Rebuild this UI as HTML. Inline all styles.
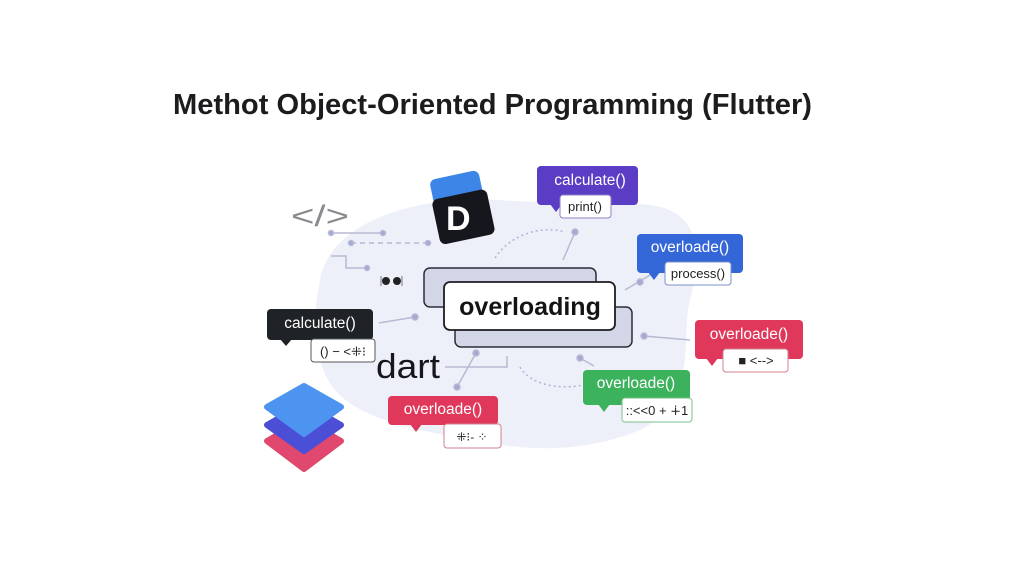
<!DOCTYPE html>
<html><head><meta charset="utf-8"><style>
html,body{margin:0;padding:0;background:#fff}
svg{display:block}
text{font-family:"Liberation Sans",sans-serif}
</style></head><body>
<svg width="1024" height="576" viewBox="0 0 1024 576" xmlns="http://www.w3.org/2000/svg">
<rect width="1024" height="576" fill="#fff"/>
<text x="173" y="114" font-size="29" font-weight="bold" fill="#1c1c1e" textLength="639" lengthAdjust="spacingAndGlyphs">Methot Object-Oriented Programming (Flutter)</text>
<!-- blob -->
<path d="M320 280 C330 220 420 195 500 200 C560 205 600 200 650 205 C705 212 700 260 690 300 C680 340 700 400 640 430 C580 455 520 450 470 440 C420 430 350 420 328 380 C310 345 315 305 320 280 Z" fill="#eef0f9"/>
<!-- code icon -->
<text x="291" y="226" font-size="30" fill="#8a8a90" textLength="58" lengthAdjust="spacingAndGlyphs">&lt;/&gt;</text>
<g stroke="#b7b9d4" stroke-width="1.5" fill="#a5a8d0">
<line x1="331" y1="233" x2="383" y2="233"/><circle cx="331" cy="233" r="2.5"/><circle cx="383" cy="233" r="2.5"/>
<line x1="351" y1="243" x2="428" y2="243" stroke-dasharray="5 4"/><circle cx="351" cy="243" r="2.5"/><circle cx="428" cy="243" r="2.5"/>
<polyline points="331,256 346,256 346,268 367,268" fill="none"/><circle cx="367" cy="268" r="2.5"/>
<line x1="379" y1="323" x2="415" y2="317"/><circle cx="415" cy="317" r="3"/>
<line x1="563" y1="260" x2="575" y2="232"/><circle cx="575" cy="232" r="3"/>
<line x1="625" y1="290" x2="655" y2="272"/><circle cx="640" cy="282" r="3"/>
<line x1="644" y1="336" x2="690" y2="340"/><circle cx="644" cy="336" r="3"/>
<line x1="580" y1="358" x2="594" y2="366"/><circle cx="580" cy="358" r="3"/>
<line x1="457" y1="387" x2="476" y2="353"/><circle cx="476" cy="353" r="3"/><circle cx="457" cy="387" r="3"/>
<polyline points="445,367 507,367 507,356" fill="none"/>
</g>
<path d="M495 258 C510 235 540 225 565 232" fill="none" stroke="#b0b3d6" stroke-width="1.5" stroke-dasharray="2 3"/>
<path d="M520 367 C530 385 560 390 583 385" fill="none" stroke="#b0b3d6" stroke-width="1.5" stroke-dasharray="2 3"/>
<!-- glasses -->
<g fill="#222"><circle cx="386" cy="281" r="4"/><circle cx="397" cy="281" r="4"/></g>
<path d="M381 276 L381 286 M402 276 L402 286" stroke="#777" stroke-width="1"/>
<!-- D icon -->
<g transform="rotate(-12 462 210)">
<rect x="436" y="174" width="50" height="48" rx="6" fill="#3d86e8"/>
<rect x="434" y="194" width="56" height="46" rx="6" fill="#15171c"/>
</g>
<text x="446" y="230" font-size="34" font-weight="bold" fill="#fff">D</text>
<!-- central -->
<rect x="424" y="268" width="172" height="39" rx="6" fill="#d3d6e6" stroke="#2a2c38" stroke-width="1.5"/>
<rect x="455" y="307" width="177" height="40" rx="6" fill="#d3d6e6" stroke="#2a2c38" stroke-width="1.5"/>
<rect x="444" y="282" width="171" height="48" rx="6" fill="#fff" stroke="#1c1c22" stroke-width="1.8"/>
<text x="530" y="315" font-size="25" font-weight="bold" fill="#141414" text-anchor="middle">overloading</text>
<!-- bubbles -->
<g font-size="15.5" text-anchor="middle">
<rect x="537" y="166" width="101" height="39" rx="4" fill="#5b3cc4"/><path d="M550 204 L556 212 L562 204Z" fill="#5b3cc4"/>
<text x="590" y="185" fill="#fff">calculate()</text>
<rect x="560" y="195" width="51" height="23" rx="3" fill="#fff" stroke="#8c7fc4"/>
<text x="585" y="211" font-size="13" fill="#222">print()</text>

<rect x="637" y="234" width="106" height="39" rx="4" fill="#3366d6"/><path d="M648 272 L654 280 L660 272Z" fill="#3366d6"/>
<text x="690" y="252" fill="#fff">overloade()</text>
<rect x="665" y="262" width="66" height="23" rx="3" fill="#fff" stroke="#7a90c8"/>
<text x="698" y="278" font-size="13" fill="#222">process()</text>

<rect x="695" y="320" width="108" height="39" rx="4" fill="#e0385a"/><path d="M706 358 L712 366 L718 358Z" fill="#e0385a"/>
<text x="749" y="339" fill="#fff">overloade()</text>
<rect x="723" y="349" width="65" height="23" rx="3" fill="#fff" stroke="#d08090"/>
<text x="756" y="365" font-size="13" fill="#222">■ &lt;--&gt;</text>

<rect x="583" y="370" width="107" height="35" rx="4" fill="#3bb25b"/><path d="M598 404 L604 412 L610 404Z" fill="#3bb25b"/>
<text x="636" y="388" fill="#fff">overloade()</text>
<rect x="622" y="398" width="70" height="24" rx="3" fill="#fff" stroke="#7bbf8c"/>
<text x="657" y="415" font-size="13" fill="#222">::&lt;&lt;0 + ∔1</text>

<rect x="388" y="396" width="110" height="29" rx="4" fill="#e0385a"/><path d="M410 424 L416 432 L422 424Z" fill="#e0385a"/>
<text x="443" y="414" fill="#fff">overloade()</text>
<rect x="444" y="424" width="57" height="24" rx="3" fill="#fff" stroke="#d08090"/>
<text x="472" y="441" font-size="12" fill="#222">⁜⁝- ⁘</text>

<rect x="267" y="309" width="106" height="31" rx="4" fill="#1f2226"/><path d="M280 339 L286 346 L292 339Z" fill="#1f2226"/>
<text x="320" y="328" fill="#fff">calculate()</text>
<rect x="311" y="339" width="64" height="23" rx="3" fill="#fff" stroke="#555"/>
<text x="343" y="356" font-size="13" fill="#222">() − &lt;⁜⁝</text>
</g>
<text x="376" y="378" font-size="34" fill="#15171c" textLength="64" lengthAdjust="spacingAndGlyphs">dart</text>
<!-- layers -->
<g stroke-linejoin="round" stroke-width="6">
<path d="M304 420 L341 441 L304 469 L267 441 Z" fill="#e04870" stroke="#e04870"/>
<path d="M304 404 L341 425 L304 451 L267 425 Z" fill="#4a4fd6" stroke="#4a4fd6"/>
<path d="M304 386 L341 407 L304 434 L267 407 Z" fill="#4d94f0" stroke="#4d94f0"/>
</g>
</svg>
</body></html>
